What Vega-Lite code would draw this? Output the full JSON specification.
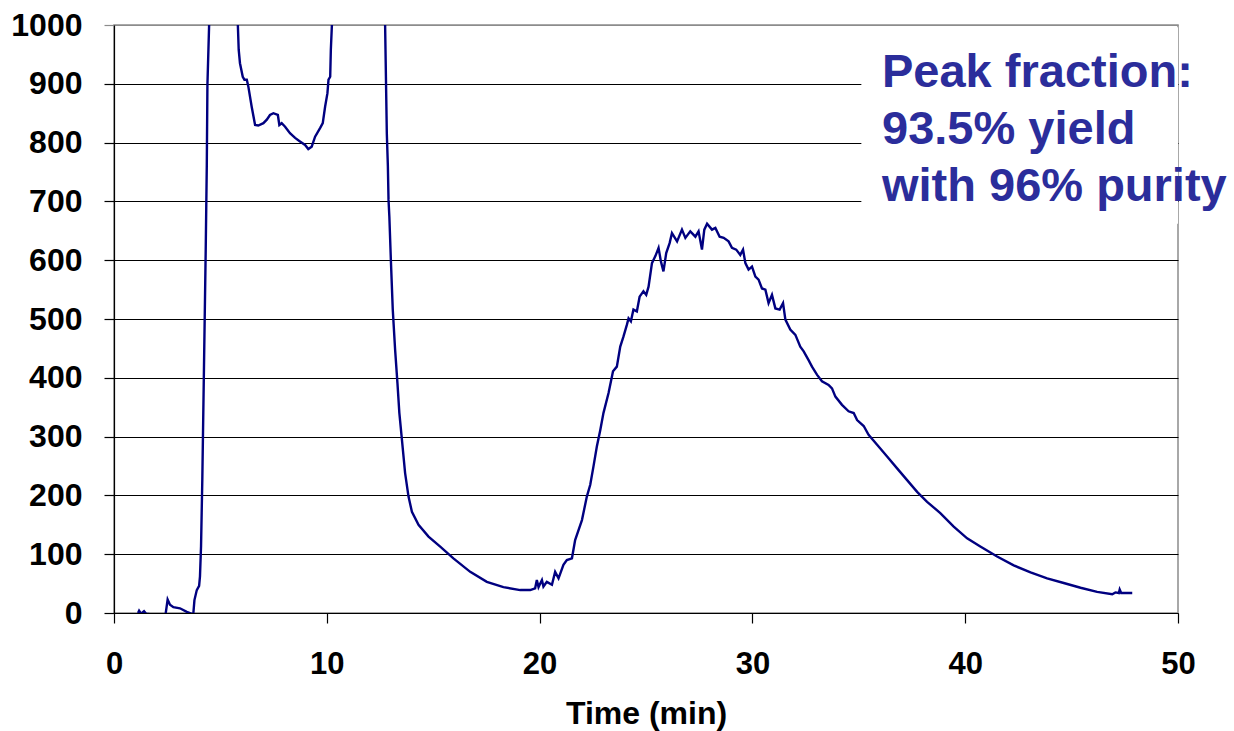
{
  "$schema": "https://vega.github.io/schema/vega-lite/v6.json",
  "autosize": "none",
  "width": 1064,
  "height": 588,
  "padding": {"left": 114, "top": 25, "right": 56, "bottom": 118},
  "background": "white",
  "config": {
    "view": {"stroke": "#8c8c8c", "strokeWidth": 1.5},
    "font": "Liberation Sans"
  },
  "datasets": {
    "trace": [
      {"t": 1.13, "v": 0}, {"t": 1.18, "v": 4}, {"t": 1.27, "v": -1}, {"t": 1.41, "v": 3}, {"t": 1.5, "v": -1},
      {"t": 1.69, "v": -2}, {"t": 1.93, "v": -3}, {"t": 2.16, "v": -8}, {"t": 2.42, "v": -3}, {"t": 2.52, "v": 23},
      {"t": 2.63, "v": 14}, {"t": 2.79, "v": 10}, {"t": 3.1, "v": 8}, {"t": 3.42, "v": 2}, {"t": 3.7, "v": -2},
      {"t": 3.73, "v": 0}, {"t": 3.78, "v": 22}, {"t": 3.89, "v": 39}, {"t": 4.0, "v": 46}, {"t": 4.04, "v": 62},
      {"t": 4.09, "v": 113}, {"t": 4.12, "v": 170}, {"t": 4.15, "v": 227}, {"t": 4.31, "v": 618}, {"t": 4.36, "v": 760},
      {"t": 4.39, "v": 898}, {"t": 4.47, "v": 1000}, {"t": 4.6, "v": 1300}, {"t": 5.0, "v": 1500}, {"t": 5.6, "v": 1300},
      {"t": 5.82, "v": 1000}, {"t": 5.86, "v": 958}, {"t": 5.92, "v": 935}, {"t": 6.05, "v": 912}, {"t": 6.13, "v": 907},
      {"t": 6.24, "v": 907}, {"t": 6.31, "v": 896}, {"t": 6.47, "v": 861}, {"t": 6.63, "v": 830}, {"t": 6.78, "v": 829},
      {"t": 7.02, "v": 833}, {"t": 7.18, "v": 839}, {"t": 7.33, "v": 847}, {"t": 7.49, "v": 850}, {"t": 7.7, "v": 847},
      {"t": 7.77, "v": 830}, {"t": 7.88, "v": 833}, {"t": 8.04, "v": 827}, {"t": 8.27, "v": 816}, {"t": 8.51, "v": 808},
      {"t": 8.74, "v": 802}, {"t": 8.98, "v": 796}, {"t": 9.13, "v": 789}, {"t": 9.29, "v": 793}, {"t": 9.45, "v": 810},
      {"t": 9.69, "v": 825}, {"t": 9.81, "v": 833}, {"t": 9.92, "v": 861}, {"t": 10.03, "v": 884}, {"t": 10.08, "v": 907},
      {"t": 10.16, "v": 912}, {"t": 10.19, "v": 958}, {"t": 10.24, "v": 1000}, {"t": 10.5, "v": 1500}, {"t": 12.0, "v": 1600},
      {"t": 12.6, "v": 1300}, {"t": 12.74, "v": 1000}, {"t": 12.82, "v": 816}, {"t": 12.87, "v": 760}, {"t": 12.9, "v": 703},
      {"t": 12.94, "v": 674}, {"t": 13.01, "v": 601}, {"t": 13.1, "v": 516}, {"t": 13.21, "v": 448}, {"t": 13.32, "v": 391},
      {"t": 13.41, "v": 340}, {"t": 13.53, "v": 295}, {"t": 13.68, "v": 238}, {"t": 13.84, "v": 198}, {"t": 14.0, "v": 172},
      {"t": 14.31, "v": 150}, {"t": 14.78, "v": 130}, {"t": 15.33, "v": 113}, {"t": 15.95, "v": 93}, {"t": 16.74, "v": 70},
      {"t": 17.52, "v": 53}, {"t": 18.3, "v": 44}, {"t": 19.09, "v": 39}, {"t": 19.56, "v": 39}, {"t": 19.79, "v": 42},
      {"t": 19.87, "v": 56}, {"t": 19.95, "v": 44}, {"t": 20.11, "v": 56}, {"t": 20.18, "v": 45}, {"t": 20.34, "v": 53},
      {"t": 20.58, "v": 48}, {"t": 20.73, "v": 70}, {"t": 20.89, "v": 59}, {"t": 21.12, "v": 82}, {"t": 21.28, "v": 90},
      {"t": 21.52, "v": 93}, {"t": 21.67, "v": 124}, {"t": 21.99, "v": 158}, {"t": 22.22, "v": 198}, {"t": 22.38, "v": 218},
      {"t": 22.53, "v": 249}, {"t": 22.69, "v": 283}, {"t": 22.85, "v": 311}, {"t": 23.0, "v": 340}, {"t": 23.24, "v": 374},
      {"t": 23.45, "v": 411}, {"t": 23.63, "v": 419}, {"t": 23.79, "v": 453}, {"t": 23.94, "v": 470}, {"t": 24.1, "v": 490},
      {"t": 24.18, "v": 501}, {"t": 24.29, "v": 496}, {"t": 24.41, "v": 516}, {"t": 24.57, "v": 513}, {"t": 24.7, "v": 538},
      {"t": 24.88, "v": 547}, {"t": 25.01, "v": 541}, {"t": 25.12, "v": 555}, {"t": 25.28, "v": 595}, {"t": 25.44, "v": 607},
      {"t": 25.59, "v": 621}, {"t": 25.7, "v": 598}, {"t": 25.82, "v": 581}, {"t": 25.95, "v": 612}, {"t": 26.11, "v": 629},
      {"t": 26.22, "v": 646}, {"t": 26.46, "v": 632}, {"t": 26.69, "v": 652}, {"t": 26.85, "v": 638}, {"t": 27.08, "v": 649},
      {"t": 27.32, "v": 640}, {"t": 27.47, "v": 649}, {"t": 27.63, "v": 618}, {"t": 27.74, "v": 652}, {"t": 27.87, "v": 662},
      {"t": 28.1, "v": 652}, {"t": 28.26, "v": 655}, {"t": 28.46, "v": 640}, {"t": 28.65, "v": 638}, {"t": 28.88, "v": 632},
      {"t": 29.04, "v": 621}, {"t": 29.24, "v": 618}, {"t": 29.43, "v": 609}, {"t": 29.56, "v": 618}, {"t": 29.67, "v": 595},
      {"t": 29.82, "v": 584}, {"t": 29.98, "v": 589}, {"t": 30.14, "v": 572}, {"t": 30.29, "v": 567}, {"t": 30.45, "v": 552},
      {"t": 30.61, "v": 550}, {"t": 30.76, "v": 527}, {"t": 30.92, "v": 541}, {"t": 31.08, "v": 518}, {"t": 31.28, "v": 516},
      {"t": 31.44, "v": 527}, {"t": 31.55, "v": 499}, {"t": 31.78, "v": 482}, {"t": 32.02, "v": 473}, {"t": 32.25, "v": 453},
      {"t": 32.41, "v": 445}, {"t": 32.64, "v": 430}, {"t": 32.8, "v": 419}, {"t": 33.04, "v": 405}, {"t": 33.27, "v": 394},
      {"t": 33.58, "v": 388}, {"t": 33.74, "v": 382}, {"t": 33.9, "v": 368}, {"t": 34.21, "v": 354}, {"t": 34.52, "v": 343},
      {"t": 34.76, "v": 340}, {"t": 34.92, "v": 328}, {"t": 35.23, "v": 318}, {"t": 35.46, "v": 303}, {"t": 35.86, "v": 286},
      {"t": 36.33, "v": 266}, {"t": 36.8, "v": 246}, {"t": 37.27, "v": 226}, {"t": 37.74, "v": 206}, {"t": 38.21, "v": 189},
      {"t": 38.83, "v": 170}, {"t": 39.46, "v": 147}, {"t": 40.09, "v": 127}, {"t": 40.71, "v": 113}, {"t": 41.5, "v": 96},
      {"t": 42.28, "v": 81}, {"t": 43.07, "v": 69}, {"t": 43.85, "v": 59}, {"t": 44.63, "v": 51}, {"t": 45.42, "v": 43},
      {"t": 46.2, "v": 36}, {"t": 46.91, "v": 32}, {"t": 47.06, "v": 35}, {"t": 47.22, "v": 34}, {"t": 47.26, "v": 40},
      {"t": 47.33, "v": 34}, {"t": 47.85, "v": 34}
    ],
    "box": [{"x1": 35.12, "x2": 50, "y1": 662, "y2": 996}],
    "note": [{"x": 36.09, "y": 894.5, "label": ["Peak fraction:", "93.5% yield", "with 96% purity"]}]
  },
  "layer": [
    {
      "data": {"name": "box"},
      "mark": {"type": "rect", "fill": "white", "stroke": null},
      "encoding": {
        "x": {"field": "x1", "type": "quantitative", "scale": {"domain": [0, 50], "nice": false}},
        "x2": {"field": "x2"},
        "y": {"field": "y1", "type": "quantitative", "scale": {"domain": [0, 1000], "nice": false}},
        "y2": {"field": "y2"}
      }
    },
    {
      "data": {"name": "trace"},
      "mark": {"type": "line", "color": "#000080", "strokeWidth": 2.4, "clip": true},
      "encoding": {
        "x": {
          "field": "t", "type": "quantitative",
          "scale": {"domain": [0, 50], "nice": false, "zero": false},
          "axis": {
            "title": "Time (min)", "values": [0, 10, 20, 30, 40, 50], "format": "d",
            "grid": false, "domainColor": "black", "domainWidth": 1.2,
            "tickColor": "black", "tickSize": 10, "tickWidth": 1.2,
            "labelFont": "Liberation Sans", "labelFontWeight": "bold", "labelFontSize": 31, "labelColor": "black",
            "labelPadding": 26, "labelFlush": false,
            "titleFont": "Liberation Sans", "titleFontWeight": "bold", "titleFontSize": 32, "titleColor": "black",
            "titlePadding": 19
          }
        },
        "y": {
          "field": "v", "type": "quantitative",
          "scale": {"domain": [0, 1000], "nice": false, "zero": false},
          "axis": {
            "title": null, "values": [0, 100, 200, 300, 400, 500, 600, 700, 800, 900, 1000], "format": "d",
            "grid": true, "gridWidth": 1.2,
            "gridColor": {"condition": {"test": "datum.value === 1000", "value": "#8c8c8c"}, "value": "black"},
            "tickColor": {"condition": {"test": "datum.value === 1000", "value": "#8c8c8c"}, "value": "black"},
            "domainColor": "black", "domainWidth": 1.2,
            "tickSize": 10, "tickWidth": 1.2,
            "labelFont": "Liberation Sans", "labelFontWeight": "bold", "labelFontSize": 32, "labelColor": "black",
            "labelPadding": 22, "labelFlush": false
          }
        }
      }
    },
    {
      "data": {"name": "note"},
      "mark": {
        "type": "text", "align": "left", "baseline": "alphabetic",
        "font": "Liberation Sans", "fontWeight": "bold", "fontSize": 47, "lineHeight": 57,
        "color": "#2B2D9B", "clip": false
      },
      "encoding": {
        "x": {"field": "x", "type": "quantitative"},
        "y": {"field": "y", "type": "quantitative"},
        "text": {"field": "label"}
      }
    }
  ]
}
